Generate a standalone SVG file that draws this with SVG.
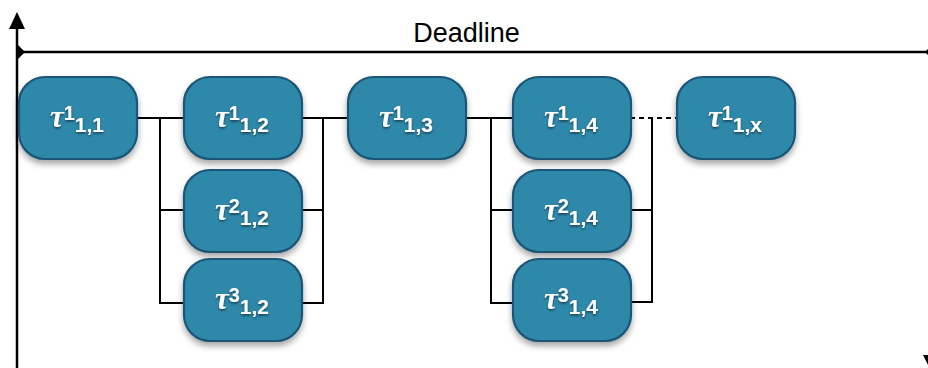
<svg xmlns="http://www.w3.org/2000/svg" width="928" height="368" viewBox="0 0 928 368">
<defs>
<filter id="shadow" x="-20%" y="-20%" width="140%" height="150%">
<feDropShadow dx="0" dy="4" stdDeviation="3" flood-color="#000" flood-opacity="0.35"/>
</filter>
<filter id="tshadow" x="-20%" y="-30%" width="140%" height="160%">
<feDropShadow dx="0" dy="1.5" stdDeviation="1" flood-color="#000" flood-opacity="0.55"/>
</filter>
</defs>
<style>
.node rect{fill:#2f88a9;stroke:#1b5677;stroke-width:2.2;filter:url(#shadow)}
.node text{fill:#fff;text-anchor:middle;filter:url(#tshadow)}
.tau{font-family:"Liberation Serif",serif;font-style:italic;font-weight:bold;font-size:31px}
.sup,.sub{font-family:"Liberation Sans",Arial,sans-serif;font-weight:bold;font-size:20px}
.sub{font-size:21px}
.conn path{fill:none;stroke:#000;stroke-width:2}
.dash{stroke-dasharray:5 4}
.axis{stroke:#000;stroke-width:2.5;fill:none}
.label{font-family:"Liberation Sans",Arial,sans-serif;font-size:27px;fill:#000;text-anchor:middle}
</style>
<g id="axes">
<path class="axis" d="M17,368 V26"/>
<polygon points="17,12 9,29 25,29" fill="#000"/>
<path class="axis" d="M17,52 H928"/>
<polygon points="18,45 25,52 18,59" fill="#000"/>
<polygon points="925,52 932,45 932,59" fill="#000"/>
<polygon points="923,355 933,355 928,365" fill="#000"/>
<text class="label" x="466.5" y="42">Deadline</text>
</g>
<g id="connectors" class="conn">
<path d="M137,118 H184"/>
<path d="M160,118 V303 H184 M160,210 H184"/>
<path d="M302,118 H348"/>
<path d="M323,118 V303 H302 M302,210 H323"/>
<path d="M466,118 H513"/>
<path d="M491,118 V303 H513 M491,210 H513"/>
<path class="dash" d="M630,118 H677"/>
<path d="M652,118 V302 H630 M630,210 H652"/>
</g>
<g id="n11" class="node"><rect x="19" y="77" width="118" height="82" rx="26"/><text x="77" y="127"><tspan class="tau">τ</tspan><tspan class="sup" dy="-7">1</tspan><tspan class="sub" dy="12">1,1</tspan></text></g>
<g id="n12" class="node"><rect x="184" y="77" width="118" height="82" rx="26"/><text x="242" y="127"><tspan class="tau">τ</tspan><tspan class="sup" dy="-7">1</tspan><tspan class="sub" dy="12">1,2</tspan></text></g>
<g id="n212" class="node"><rect x="184" y="170" width="118" height="82" rx="26"/><text x="242" y="220"><tspan class="tau">τ</tspan><tspan class="sup" dy="-7">2</tspan><tspan class="sub" dy="12">1,2</tspan></text></g>
<g id="n312" class="node"><rect x="184" y="259" width="118" height="82" rx="26"/><text x="242" y="309"><tspan class="tau">τ</tspan><tspan class="sup" dy="-7">3</tspan><tspan class="sub" dy="12">1,2</tspan></text></g>
<g id="n13" class="node"><rect x="348" y="77" width="118" height="82" rx="26"/><text x="406" y="127"><tspan class="tau">τ</tspan><tspan class="sup" dy="-7">1</tspan><tspan class="sub" dy="12">1,3</tspan></text></g>
<g id="n14" class="node"><rect x="513" y="77" width="118" height="82" rx="26"/><text x="571" y="127"><tspan class="tau">τ</tspan><tspan class="sup" dy="-7">1</tspan><tspan class="sub" dy="12">1,4</tspan></text></g>
<g id="n214" class="node"><rect x="513" y="170" width="118" height="82" rx="26"/><text x="571" y="220"><tspan class="tau">τ</tspan><tspan class="sup" dy="-7">2</tspan><tspan class="sub" dy="12">1,4</tspan></text></g>
<g id="n314" class="node"><rect x="513" y="259" width="118" height="82" rx="26"/><text x="571" y="309"><tspan class="tau">τ</tspan><tspan class="sup" dy="-7">3</tspan><tspan class="sub" dy="12">1,4</tspan></text></g>
<g id="n1x" class="node"><rect x="677" y="77" width="118" height="82" rx="26"/><text x="735" y="127"><tspan class="tau">τ</tspan><tspan class="sup" dy="-7">1</tspan><tspan class="sub" dy="12">1,x</tspan></text></g>
</svg>
